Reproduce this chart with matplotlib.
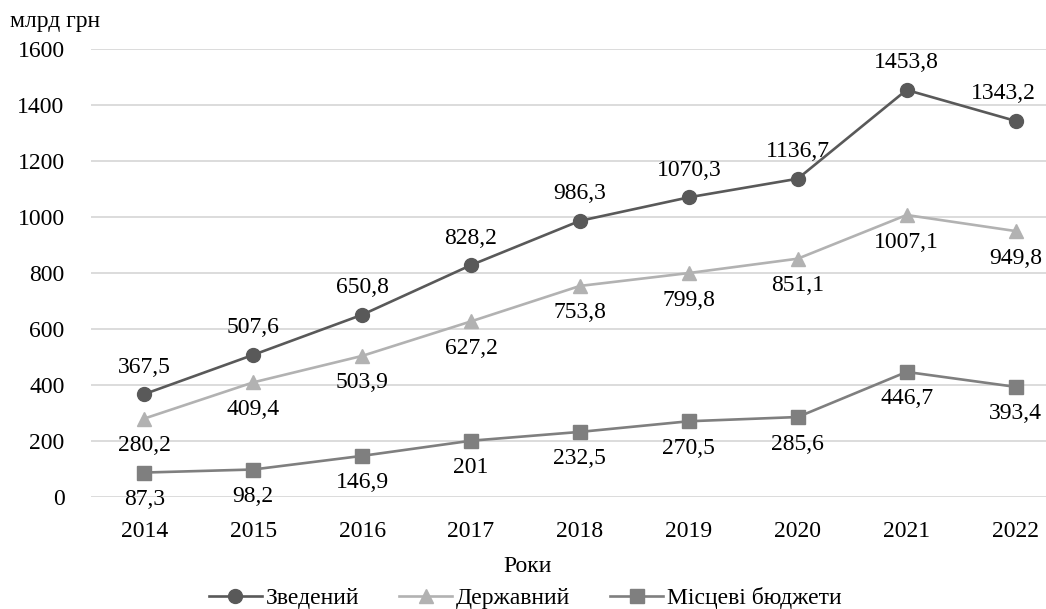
import matplotlib
matplotlib.use("Agg")
import matplotlib.pyplot as plt

plt.rcParams['font.family'] = ['Liberation Serif', 'DejaVu Serif']

years = ['2014', '2015', '2016', '2017', '2018', '2019', '2020', '2021', '2022']
zvedenyi = [367.5, 507.6, 650.8, 828.2, 986.3, 1070.3, 1136.7, 1453.8, 1343.2]
derzhavnyi = [280.2, 409.4, 503.9, 627.2, 753.8, 799.8, 851.1, 1007.1, 949.8]
mistsevi = [87.3, 98.2, 146.9, 201, 232.5, 270.5, 285.6, 446.7, 393.4]
series_names = ['Зведений', 'Державний', 'Місцеві бюджети']
yticks = [0, 200, 400, 600, 800, 1000, 1200, 1400, 1600]

def fmt(v):
    s = ('%.1f' % v).replace('.', ',')
    if s.endswith(',0'):
        s = s[:-2]
    return s

W, H = 1046, 609
fig = plt.figure(figsize=(W / 100, H / 100), dpi=100)
ax = fig.add_axes([91 / W, 1 - 497 / H, 1 - 91 / W, (497 - 49) / H])

x = list(range(len(years)))
c1, c2, c3 = '#595959', '#b2b2b2', '#7f7f7f'
fs = 17

l1, = ax.plot(x, zvedenyi, color=c1, lw=1.9, marker='o', ms=10, label=series_names[0], clip_on=False, zorder=5)
l2, = ax.plot(x, derzhavnyi, color=c2, lw=1.9, marker='^', ms=10, label=series_names[1], clip_on=False, zorder=4)
l3, = ax.plot(x, mistsevi, color=c3, lw=1.9, marker='s', ms=10, label=series_names[2], clip_on=False, zorder=3)

n = len(x)
for xi, v in zip(x, zvedenyi):
    dx = -12 if xi == n - 1 else 0
    ax.annotate(fmt(v), (xi, v), xytext=(dx, 27), textcoords='offset pixels',
                ha='center', va='center', fontsize=fs, color='black', annotation_clip=False)
for xi, v in zip(x, derzhavnyi):
    ax.annotate(fmt(v), (xi, v), xytext=(0, -27), textcoords='offset pixels',
                ha='center', va='center', fontsize=fs, color='black', annotation_clip=False)
for xi, v in zip(x, mistsevi):
    ax.annotate(fmt(v), (xi, v), xytext=(0, -27), textcoords='offset pixels',
                ha='center', va='center', fontsize=fs, color='black', annotation_clip=False)

ax.set_xlim(-0.49, 8.28)
ax.set_ylim(0, 1600)
ax.set_yticks(yticks)
ax.set_yticklabels([str(t) for t in yticks], fontsize=fs)
ax.set_xticks(x)
ax.set_xticklabels(years, fontsize=fs)
ax.tick_params(axis='both', length=0)
ax.tick_params(axis='y', pad=19)
ax.tick_params(axis='x', pad=17)
ax.grid(axis='y', color='#d9d9d9', lw=1.3)
ax.set_axisbelow(True)
for s in ax.spines.values():
    s.set_visible(False)

fig.text(528 / W, 1 - 566 / H, 'Роки', ha='center', va='center', fontsize=fs)
fig.text(10 / W, 1 - 22 / H, 'млрд грн', ha='left', va='center', fontsize=fs)

fig.legend(handles=[l1, l2, l3], loc='center', bbox_to_anchor=(525 / W, 1 - 598 / H),
           ncol=3, frameon=False, fontsize=fs, handlelength=2.25, handletextpad=0.15,
           columnspacing=1.7, borderpad=0)

fig.savefig('out.png', dpi=100)
